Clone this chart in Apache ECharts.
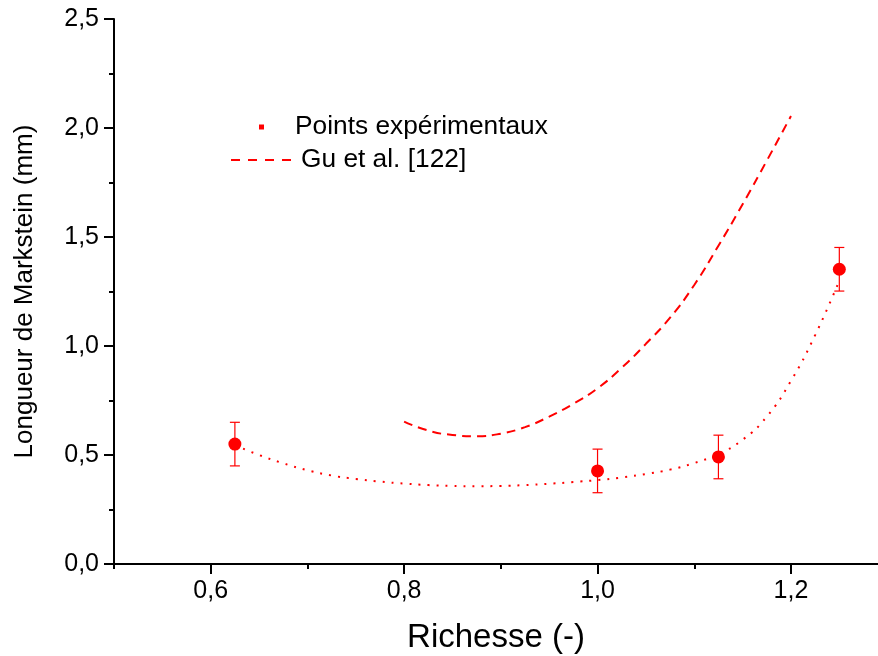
<!DOCTYPE html>
<html>
<head>
<meta charset="utf-8">
<script src="https://cdn.jsdelivr.net/npm/echarts@6/dist/echarts.min.js"></script>
<style>html,body{margin:0;padding:0;background:#fff;}#c{width:878px;height:656px;}</style>
</head>
<body>
<div id="c"></div>
<script>
// Experimental points
const expX = [0.625, 1.0, 1.125, 1.25];
const expY = [0.55, 0.427, 0.491, 1.352];
const expErr = [0.1, 0.1, 0.1, 0.1];
// Dotted fit through experimental points
const fitX = [0.625,0.65,0.675,0.70,0.725,0.75,0.775,0.80,0.825,0.85,0.875,0.90,0.925,0.95,0.975,1.0,1.025,1.05,1.075,1.10,1.125,1.15,1.175,1.20,1.225,1.25];
const fitY = [0.545,0.50,0.462,0.43,0.406,0.39,0.378,0.369,0.362,0.358,0.357,0.358,0.362,0.368,0.376,0.385,0.397,0.413,0.433,0.463,0.505,0.57,0.676,0.84,1.05,1.30];
// Gu et al. [122]
const guX = [0.80,0.825,0.85,0.875,0.90,0.925,0.95,0.975,1.0,1.025,1.05,1.075,1.10,1.125,1.15,1.175,1.20];
const guY = [0.653,0.612,0.592,0.586,0.598,0.628,0.676,0.735,0.806,0.90,1.01,1.13,1.28,1.46,1.65,1.85,2.055];
// Tick values
const xLabelTicks = [0.6, 0.8, 1.0, 1.2];
const xMinorTicks = [0.5, 0.7, 0.9, 1.1];

const FONT = '"Liberation Sans", Arial, sans-serif';
const RED = '#ff0000';
const fmt = v => Number(v).toFixed(1).replace('.', ',');
const zip = (a, b) => a.map((x, i) => [x, b[i]]);
const DASH_ICON = 'path://M0,0h9v2h-9z M17,0h9v2h-9z M34,0h9v2h-9z M51,0h9v2h-9z';

const chart = echarts.init(document.getElementById('c'), null, {renderer: 'canvas'});
chart.setOption({
  animation: false,
  backgroundColor: '#ffffff',
  grid: {left: 114, right: 0, top: 19, bottom: 92, containLabel: false, outerBoundsMode: 'none'},
  legend: [
    {
      data: [{name: 'Points expérimentaux', icon: 'rect'}],
      left: 254, top: 108, itemWidth: 5, itemHeight: 5, selectedMode: false,
      itemStyle: {opacity: 1},
      textStyle: {fontFamily: FONT, fontSize: 26.3, color: '#000', padding: [0, 0, 0, 26], lineHeight: 28}
    },
    {
      data: [{name: 'Gu et al. [122]', icon: DASH_ICON, itemStyle: {color: RED, borderWidth: 0}}],
      left: 226, top: 141, itemWidth: 60, itemHeight: 2, selectedMode: false,
      textStyle: {fontFamily: FONT, fontSize: 26.3, color: '#000', padding: [0, 0, 0, 5], lineHeight: 28}
    }
  ],
  xAxis: [
    {
      type: 'value', min: 0.5, max: 1.29, position: 'bottom',
      name: 'Richesse (-)', nameLocation: 'middle', nameGap: 57,
      nameTextStyle: {fontFamily: FONT, fontSize: 33, color: '#000'},
      axisLine: {show: true, lineStyle: {color: '#000', width: 2}},
      axisTick: {show: true, customValues: xLabelTicks, length: 10, lineStyle: {color: '#000', width: 2}},
      axisLabel: {customValues: xLabelTicks, formatter: fmt, fontFamily: FONT, fontSize: 25, color: '#000', margin: 15},
      splitLine: {show: false}
    },
    {
      type: 'value', min: 0.5, max: 1.29, position: 'bottom', offset: 0,
      axisLine: {show: false},
      axisTick: {show: true, customValues: xMinorTicks, length: 5, lineStyle: {color: '#000', width: 2}},
      axisLabel: {show: false},
      splitLine: {show: false}
    }
  ],
  yAxis: {
    type: 'value', min: 0, max: 2.5, interval: 0.5,
    name: 'Longueur de Markstein (mm)', nameLocation: 'middle', nameGap: 76,
    nameTextStyle: {fontFamily: FONT, fontSize: 26, color: '#000'},
    axisLine: {show: true, lineStyle: {color: '#000', width: 2}},
    axisTick: {show: true, length: 10, lineStyle: {color: '#000', width: 2}},
    minorTick: {show: true, splitNumber: 2, length: 5, lineStyle: {color: '#000', width: 2}},
    axisLabel: {formatter: fmt, fontFamily: FONT, fontSize: 25, color: '#000', margin: 15},
    splitLine: {show: false}
  },
  series: [
    {
      name: 'fit', type: 'line', data: zip(fitX, fitY), symbol: 'none', smooth: true,
      lineStyle: {color: RED, width: 2, type: [2, 7]}, z: 2
    },
    {
      name: 'Gu et al. [122]', type: 'line', data: zip(guX, guY), symbol: 'none', smooth: true,
      itemStyle: {color: RED},
      lineStyle: {color: RED, width: 2, type: [9, 6]}, z: 2
    },
    {
      name: 'err', type: 'custom', z: 3,
      data: expX.map((x, i) => [x, expY[i] - expErr[i], expY[i] + expErr[i]]),
      renderItem: function (params, api) {
        const lo = api.coord([api.value(0), api.value(1)]);
        const hi = api.coord([api.value(0), api.value(2)]);
        const w = 5;
        const st = {stroke: RED, lineWidth: 1.2, fill: null};
        return {type: 'group', children: [
          {type: 'line', shape: {x1: lo[0], y1: lo[1], x2: hi[0], y2: hi[1]}, style: st},
          {type: 'line', shape: {x1: lo[0] - w, y1: lo[1], x2: lo[0] + w, y2: lo[1]}, style: st},
          {type: 'line', shape: {x1: hi[0] - w, y1: hi[1], x2: hi[0] + w, y2: hi[1]}, style: st}
        ]};
      }
    },
    {
      name: 'Points expérimentaux', type: 'scatter', data: zip(expX, expY),
      symbol: 'circle', symbolSize: 13, itemStyle: {color: RED, opacity: 1}, z: 4
    }
  ]
});
</script>
</body>
</html>
